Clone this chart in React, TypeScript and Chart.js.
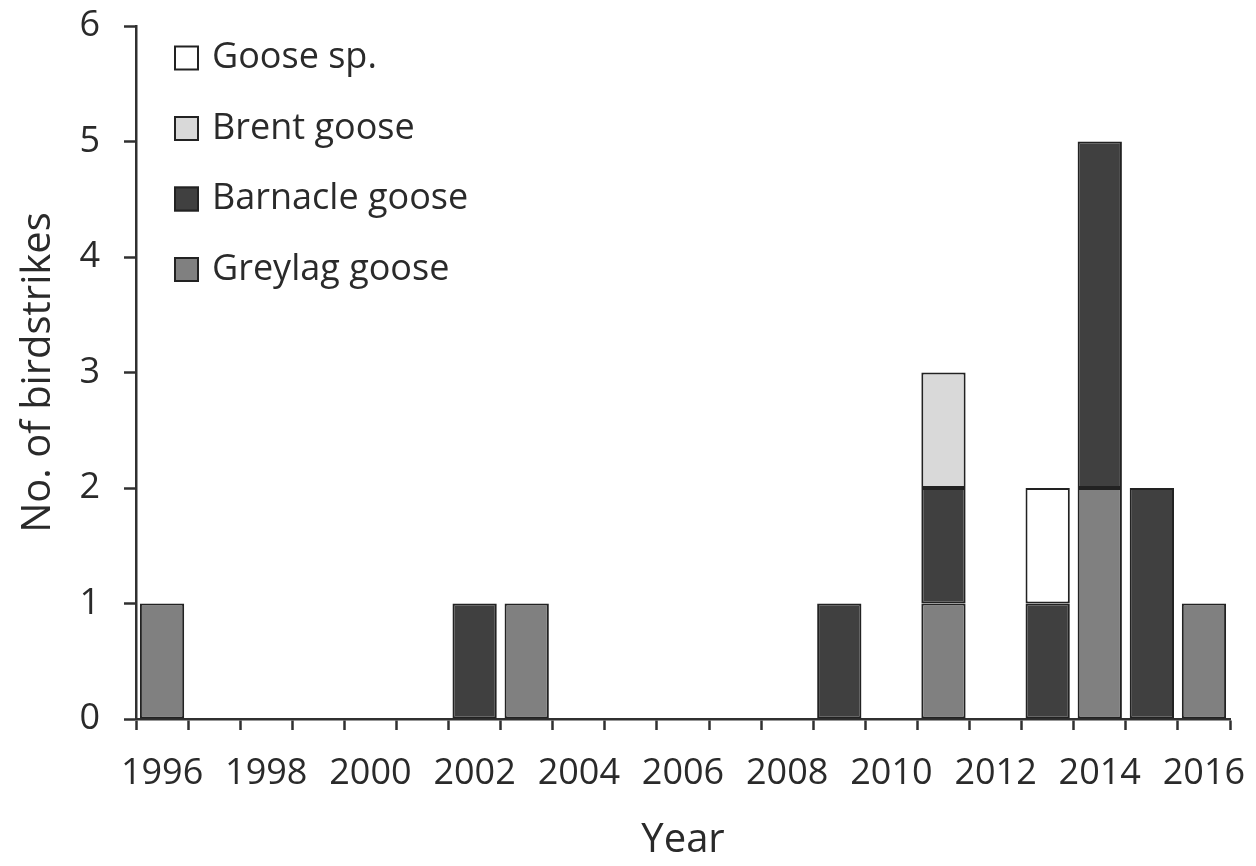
import React, { useEffect, useRef } from "react";
import { Chart, registerables } from "chart.js";

Chart.register(...registerables);

const years: string[] = [
  "1996", "1997", "1998", "1999", "2000", "2001", "2002", "2003", "2004", "2005", "2006",
  "2007", "2008", "2009", "2010", "2011", "2012", "2013", "2014", "2015", "2016",
];

// Stack order bottom -> top
const greylag: (number | null)[] = [1, null, null, null, null, null, null, 1, null, null, null, null, null, null, null, 1, null, null, 2, null, 1];
const barnacle: (number | null)[] = [null, null, null, null, null, null, 1, null, null, null, null, null, null, 1, null, 1, null, 1, 3, 2, null];
const brent: (number | null)[] = [null, null, null, null, null, null, null, null, null, null, null, null, null, null, null, 1, null, null, null, null, null];
const gooseSp: (number | null)[] = [null, null, null, null, null, null, null, null, null, null, null, null, null, null, null, null, null, 1, null, null, null];

const seriesNames = ["Greylag goose", "Barnacle goose", "Brent goose", "Goose sp."];
const seriesColors = ["#808080", "#404040", "#d9d9d9", "#ffffff"];

const yTicks = [0, 1, 2, 3, 4, 5, 6];

const FONT = "'Open Sans', 'DejaVu Sans', sans-serif";
const TEXT = "#2a2a2a";
const AXIS = "#303030";
const EDGE = "#222222";

const legendPlugin = {
  id: "insideLegend",
  afterDraw(chart: any) {
    const { ctx, chartArea } = chart;
    const ds = chart.data.datasets;
    const x0 = chartArea.left + 38;
    const y0 = chartArea.top + 32;
    const step = 70.5;
    const size = 25;
    ctx.save();
    ctx.font = `36px ${FONT}`;
    ctx.textBaseline = "middle";
    ctx.textAlign = "left";
    for (let i = ds.length - 1, row = 0; i >= 0; i--, row++) {
      const cy = y0 + row * step;
      ctx.fillStyle = ds[i].backgroundColor;
      ctx.fillRect(x0, cy - size / 2, size, size);
      ctx.lineWidth = 2;
      ctx.strokeStyle = EDGE;
      ctx.strokeRect(x0 + 1, cy - size / 2 + 1, size - 2, size - 2);
      ctx.fillStyle = TEXT;
      ctx.fillText(ds[i].label, x0 + size + 13, cy);
    }
    ctx.restore();
  },
};

export default function App() {
  const ref = useRef<HTMLCanvasElement | null>(null);

  useEffect(() => {
    if (!ref.current) return;
    const values = [greylag, barnacle, brent, gooseSp];
    const chart = new Chart(ref.current, {
      type: "bar",
      data: {
        labels: years,
        datasets: values.map((v, i) => ({
          label: seriesNames[i],
          data: v,
          backgroundColor: seriesColors[i],
          borderColor: EDGE,
          borderWidth: 2,
          borderSkipped: false,
          categoryPercentage: 1,
          barPercentage: 0.85,
        })),
      },
      options: {
        responsive: false,
        animation: false,
        layout: { padding: { left: 0, top: 26, right: 26, bottom: 0 } },
        plugins: {
          legend: { display: false },
          tooltip: { enabled: false },
        },
        scales: {
          x: {
            stacked: true,
            offset: true,
            border: { display: true, color: AXIS, width: 2.5 },
            grid: {
              offset: true,
              drawOnChartArea: false,
              drawTicks: true,
              tickLength: 11,
              tickColor: AXIS,
              tickWidth: 2.5,
            },
            ticks: {
              autoSkip: false,
              maxRotation: 0,
              minRotation: 0,
              padding: 22,
              color: TEXT,
              font: { family: FONT, size: 36 },
              callback: function (this: any, value: any) {
                const lab = this.getLabelForValue(value);
                return Number(lab) % 2 === 0 ? lab : "";
              },
            },
            title: {
              display: true,
              text: "Year",
              color: TEXT,
              font: { family: FONT, size: 40 },
              padding: { top: 0, bottom: 1 },
            },
            afterFit(scale: any) {
              scale.height = 147;
              scale.paddingLeft = 0;
              scale.paddingRight = 0;
            },
          },
          y: {
            stacked: true,
            min: 0,
            max: 6,
            border: { display: true, color: AXIS, width: 2.5 },
            grid: {
              drawOnChartArea: false,
              drawTicks: true,
              tickLength: 12,
              tickColor: AXIS,
              tickWidth: 2.5,
            },
            afterBuildTicks(scale: any) {
              scale.ticks = yTicks.map((v) => ({ value: v }));
            },
            ticks: {
              padding: 24,
              color: TEXT,
              font: { family: FONT, size: 36 },
            },
            title: {
              display: true,
              text: "No. of birdstrikes",
              color: TEXT,
              font: { family: FONT, size: 40 },
              padding: { top: 15, bottom: 0 },
            },
            afterFit(scale: any) {
              scale.width = 136;
              scale.paddingTop = 0;
              scale.paddingBottom = 0;
            },
          },
        },
      },
      plugins: [legendPlugin],
    });
    return () => chart.destroy();
  }, []);

  return (
    <div style={{ position: "absolute", left: 0, top: 0, width: 1256, height: 866, background: "#fff" }}>
      <canvas ref={ref} width={1256} height={866} style={{ display: "block" }} />
    </div>
  );
}
